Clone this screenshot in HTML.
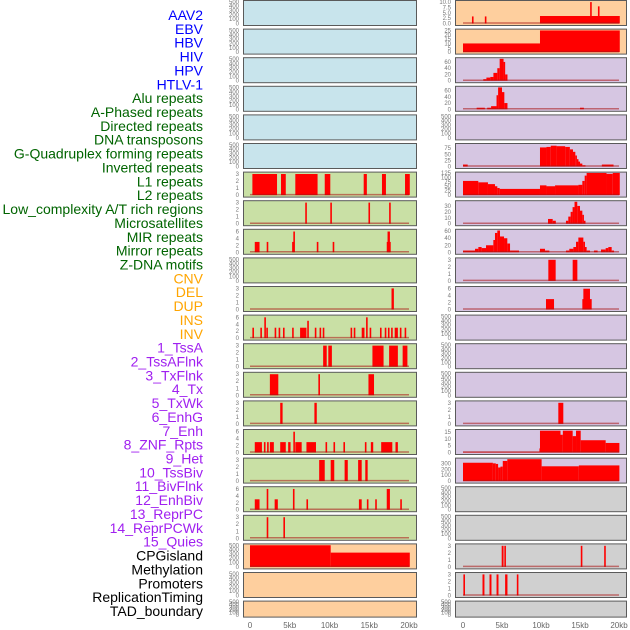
<!DOCTYPE html>
<html><head><meta charset="utf-8"><style>
html,body{margin:0;padding:0;background:#fff;width:630px;height:630px;overflow:hidden}
svg{display:block}
.lab{font-family:"Liberation Sans",sans-serif;font-size:14px}
.tk{font-family:"Liberation Sans",sans-serif;font-size:6px;fill:#777}
.xt{font-family:"Liberation Sans",sans-serif;font-size:8px;fill:#666}
</style></head><body>
<svg id="chart" width="630" height="630" viewBox="0 0 630 630"></svg>
<script>
// ---- labels ----
const labels = ["AAV2","EBV","HBV","HIV","HPV","HTLV-1","Alu repeats","A-Phased repeats","Directed repeats","DNA transposons","G-Quadruplex forming repeats","Inverted repeats","L1 repeats","L2 repeats","Low_complexity A/T rich regions","Microsatellites","MIR repeats","Mirror repeats","Z-DNA motifs","CNV","DEL","DUP","INS","INV","1_TssA","2_TssAFlnk","3_TxFlnk","4_Tx","5_TxWk","6_EnhG","7_Enh","8_ZNF_Rpts","9_Het","10_TssBiv","11_BivFlnk","12_EnhBiv","13_ReprPC","14_ReprPCWk","15_Quies","CPGisland","Methylation","Promoters","ReplicationTiming","TAD_boundary"];
const labelGroups = [6,13,5,15,5];
const groupColors = ["#0000ff","#006400","#ffa500","#a020f0","#000000"];
// ---- x axis ----
const xTicks = [0,5,10,15,20];
const xTickLabels = ["0","5kb","10kb","15kb","20kb"];
// ---- panel backgrounds ----
const leftBg = ["blue","blue","blue","blue","blue","blue","green","green","green","green","green","green","green","green","green","green","green","green","green","orange","orange","orange"];
const rightBg = ["orange","orange","purple","purple","purple","purple","purple","purple","purple","purple","purple","purple","purple","purple","purple","purple","purple","grey","grey","grey","grey","grey"];
// ---- y domains (max) ----
const leftMax = [520,520,520,520,520,520,3.2,3.2,6.5,520,3.2,6.5,3.2,3.2,3.2,6.5,3.2,6.5,3.2,520,520,520];
const rightMax = [10.5,26,72,72,520,92,127,38,64,3.2,6.5,520,520,520,3.2,16.5,380,520,520,3.2,3.2,520];
// ---- segment data [startKb,endKb,value] ----
const L7 = [[0.3,3.4,3],[3.9,4.5,3],[5.7,8.5,3],[9.4,10.1,3],[14.3,14.7,3],[16.6,17.1,3],[19.5,20.1,3]];
const L8 = [[6.95,7.15,3],[10.1,10.3,3],[14.9,15.1,3],[17.5,17.7,3]];
const L9 = [[0.6,1.2,3],[2.1,2.3,3],[5.3,5.5,3],[5.45,5.6,6],[8.4,8.6,3],[10.4,10.6,3],[17.2,17.7,3],[17.3,17.6,6]];
const L11 = [[17.8,18.1,3]];
const L12 = [[0.3,0.45,3],[1.3,1.45,3],[1.8,1.95,6],[2.05,2.2,3],[3.1,3.25,3],[3.6,3.75,3],[4.15,4.3,3],[5.3,5.45,3],[6.3,7.1,3],[7.2,7.35,5],[8.15,8.3,3],[8.75,8.9,3],[9.15,9.3,3],[12.65,12.8,3],[13.05,13.2,3],[14.05,14.4,3],[14.6,14.75,6],[15.05,15.2,3],[16.35,16.5,3],[16.95,17.1,3],[17.35,17.5,3],[17.75,17.9,3],[18.2,18.6,3],[18.85,19.0,3],[19.45,19.6,3]];
const L13 = [[9.2,9.65,3],[9.85,10.3,3],[15.4,16.8,3],[17.5,18.6,3],[19.2,19.8,3]];
const L14 = [[2.5,3.56,3],[8.6,8.8,3],[14.9,15.6,3]];
const L15 = [[3.8,4.1,3],[8.1,8.4,3]];
const L16 = [[0.6,1.5,3],[1.75,1.9,3],[2.15,2.3,3],[2.5,3.0,3],[3.8,4.5,3],[4.8,5.1,3],[5.45,5.6,6],[5.7,6.5,3],[7.1,8.3,3],[9.5,9.7,3],[10.5,10.7,3],[11.75,11.9,3],[14.45,14.6,3],[15.2,15.5,3],[16.5,17.9,3],[18.3,18.6,3]];
const L17 = [[8.7,9.4,3],[10.15,10.6,3],[11.9,12.3,3],[13.6,14.05,3],[14.5,14.8,3]];
const L18 = [[0.6,1.2,3],[2.1,2.3,6],[3.1,3.5,3],[5.4,5.6,6],[7.1,7.3,3],[13.7,14.05,3],[14.7,14.85,3],[15.75,15.9,3],[17.2,17.6,6],[18.9,19.05,3]];
const L19 = [[2.1,2.3,3],[4.2,4.4,3]];
const L20 = [[0,10.15,500],[10.15,20.1,330]];
const R1 = [[1.15,1.35,3.3],[2.8,3.0,3.3],[9.87,20.1,3.5],[16.3,16.5,10],[17.3,17.5,8]];
const R2 = [[0,9.87,10],[9.87,20.1,25]];
const R3 = [[2.6,3.0,5],[3.0,3.5,10],[3.5,3.9,12],[3.9,4.4,25],[4.4,4.7,40],[4.7,5.2,70],[5.2,5.4,60],[5.4,5.7,20]];
const R4 = [[1.75,2.8,5],[3.1,3.6,5],[3.6,4.3,10],[4.3,4.5,45],[4.5,5.0,70],[5.0,5.3,55],[5.3,5.7,20],[15.0,15.5,5]];
const R6 = [[0,0.6,8],[9.87,10.7,78],[10.7,11.25,80],[11.25,12.0,85],[12.0,13.1,83],[13.1,13.7,80],[13.7,14.1,70],[14.1,14.4,60],[14.4,14.6,45],[14.6,14.8,30],[14.8,15.0,20],[15.0,15.3,12],[15.3,15.7,5],[17.8,19.3,8]];
const R7 = [[0,1.96,80],[1.96,3.2,72],[3.2,4.1,62],[4.1,4.4,50],[4.4,4.7,40],[4.7,9.87,35],[9.87,10.7,55],[10.7,11.8,50],[11.8,14.8,55],[14.8,15.3,58],[15.3,15.6,80],[15.6,15.85,110],[15.85,18.4,125],[18.4,19.2,120],[19.2,20.1,125]];
const R8 = [[10.9,11.5,8],[11.5,11.9,5],[13.2,13.5,5],[13.5,13.8,12],[13.8,14.05,20],[14.05,14.3,28],[14.3,14.65,37],[14.65,15.0,30],[15.0,15.3,22],[15.3,15.5,15],[15.5,15.7,5]];
const R9 = [[0,1.54,5],[1.54,1.97,10],[1.97,2.39,15],[2.39,2.95,12],[2.95,3.89,20],[3.89,4.1,35],[4.1,4.4,55],[4.4,4.74,62],[4.74,5.26,45],[5.26,5.68,40],[5.68,6.03,25],[6.03,7.18,5],[9.87,10.51,10],[10.51,11.07,5],[13.2,13.63,5],[13.63,14.15,10],[14.15,14.49,15],[14.49,14.79,30],[14.79,15.43,42],[15.43,15.64,30],[15.64,15.85,15],[15.85,16.28,5],[16.79,17.26,5],[17.69,18.29,8],[18.29,18.63,12],[18.63,19.06,15],[19.06,19.36,5]];
const R10 = [[10.94,11.88,3],[14.06,14.66,3]];
const R11 = [[10.64,11.67,3],[15.3,16.5,3],[15.43,16.28,6]];
const R15 = [[12.22,12.86,3]];
const R16 = [[0,9.8,0.5],[9.8,9.87,3],[9.87,12.5,16],[12.5,12.8,13],[12.8,14.06,16],[14.06,14.49,12],[14.49,15.09,16],[15.09,18.29,9],[18.29,20.05,7]];
const R17 = [[0,3.83,310],[3.83,4.2,300],[4.2,4.5,290],[4.5,4.8,230],[4.8,5.1,245],[5.1,5.68,340],[5.68,10.08,370],[10.08,14.85,250],[14.85,20.05,265]];
const R20 = [[4.96,5.2,3],[5.3,5.47,3],[15.1,15.3,3],[18.1,18.3,3]];
const R21 = [[0.05,0.25,3],[2.5,2.75,3],[3.4,3.65,3],[4.3,4.55,3],[5.4,5.7,3],[6.9,7.1,3]];
const leftData = [null,null,null,null,null,null,L7,L8,L9,null,L11,L12,L13,L14,L15,L16,L17,L18,L19,L20,null,null];
const rightData = [R1,R2,R3,R4,null,R6,R7,R8,R9,R10,R11,null,null,null,R15,R16,R17,null,null,R20,R21,null];
// ---- y tick lists ----
const tickEmpty = [0,100,200,300,400,500];
const tick3 = [0,1,2,3];
const tick6 = [0,2,4,6];
const rightTicks = [[0,2.5,5,7.5,10],[0,5,10,15,20,25],[0,20,40,60],[0,20,40,60],tickEmpty,[0,25,50,75],[0,25,50,75,100,125],[0,10,20,30],[0,20,40,60],tick3,tick6,tickEmpty,tickEmpty,tickEmpty,tick3,[0,5,10,15],[0,100,200,300],tickEmpty,tickEmpty,tick3,tick3,tickEmpty];

const svg = document.getElementById('chart');
const NS = 'http://www.w3.org/2000/svg';
const bgColors = {blue:"#c8e4ec",green:"#c9e0a5",orange:"#fecf9e",purple:"#d6c6e2",grey:"#d0d0d0"};
function mk(tag, attrs, parent){const e=document.createElementNS(NS,tag);for(const k in attrs)e.setAttribute(k,attrs[k]);(parent||svg).appendChild(e);return e;}

// labels
let li=0;
labelGroups.forEach((n,g)=>{for(let j=0;j<n;j++){
  const t=mk('text',{x:203,y:15+li*13.86+5,'text-anchor':'end',class:'lab',fill:groupColors[g]});
  t.textContent=labels[li];
  
  
  li++;}});

const cols = [{x0:243,x1:416,z0:250,z20:409,bg:leftBg,data:leftData,max:leftMax,side:'left'},
              {x0:455,x1:626,z0:463,z20:619,bg:rightBg,data:rightData,max:rightMax,side:'right'}];
cols.forEach((c,ci)=>{
  const xs = kb => c.z0 + kb/20*(c.z20-c.z0);
  for(let i=0;i<22;i++){
    const top = i*28.6, h = (i===21)?16:25;
    const bottom = top+h-1.5;
    const dmax = c.max[i];
    const ys = v => bottom - v/dmax*(h-2.5);
    const g = mk('g',{});
    
    
    mk('rect',{x:c.x0+0.5,y:top+0.5,width:c.x1-c.x0,height:h,fill:bgColors[c.bg[i]],stroke:'#5a5a5a','stroke-width':1},g);
    const ticks = (ci===0)?(dmax>100?tickEmpty:(dmax>4?tick6:tick3)):rightTicks[i];
    ticks.forEach(tv=>{
      const t=mk('text',{x:c.x0-4,y:ys(tv)+2,'text-anchor':'end',class:'tk'},g);
      t.textContent = (ci===1&&i===0)?tv.toFixed(1):String(tv);
      
      
    });
    const d = c.data[i];
    if(d){
      d.forEach(s=>{
        const xa=xs(s[0]), xb=xs(s[1]);
        const w=Math.max(1.6,xb-xa);
        const r=mk('rect',{x:xa,y:ys(s[2]),width:w,height:ys(0)-ys(s[2]),fill:'#ff0000'},g);
        
        
      });
      const bl=mk('line',{x1:xs(0),x2:xs(20),y1:bottom-0.5,y2:bottom-0.5,stroke:'rgba(170,20,20,0.55)','stroke-width':1.5},g);
      
      
    }
  }
  xTicks.forEach((k,j)=>{
    const t=mk('text',{x:xs(k),y:628,'text-anchor':'middle',class:'xt'});
    t.textContent=xTickLabels[j];
    
    
  });
});
</script>
</body></html>
